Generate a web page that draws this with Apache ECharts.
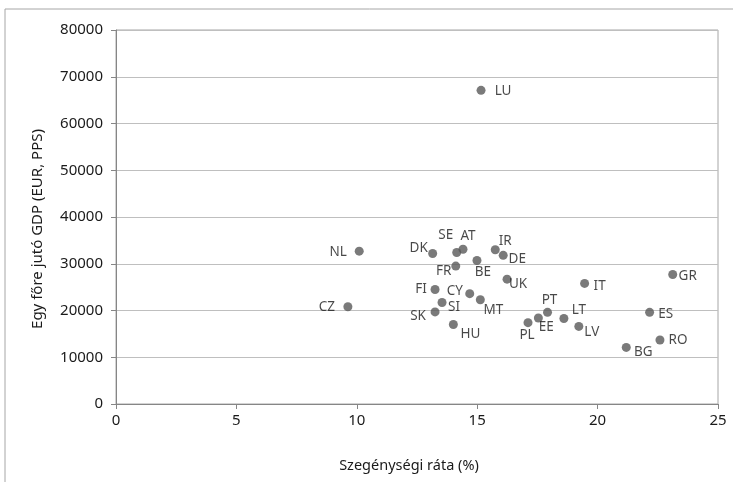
<!DOCTYPE html>
<html>
<head>
<meta charset="utf-8">
<script src="https://cdn.jsdelivr.net/npm/echarts@6/dist/echarts.min.js"></script>
<style>html,body{margin:0;padding:0;background:#fff}#c{width:733px;height:482px}</style>
</head>
<body>
<div id="c"></div>
<script>
const countries = ['LU','NL','CZ','DK','SE','AT','IR','DE','FR','BE','UK','FI','CY','MT','SI','SK','HU','PL','EE','PT','LT','LV','IT','GR','ES','RO','BG'];
const povertyRate = [15.16,10.1,9.63,13.15,14.15,14.41,15.75,16.08,14.11,14.99,16.24,13.25,14.69,15.13,13.54,13.25,14.01,17.11,17.54,17.92,18.6,19.22,19.46,23.12,22.16,22.59,21.19];
const gdpPerCapita = [67100,32700,20800,32200,32400,33100,33000,31800,29500,30700,26700,24500,23600,22300,21700,19700,17000,17400,18400,19600,18300,16600,25800,27700,19600,13700,12100];
const xTicks = [0,5,10,15,20,25];
const yTicks = [0,10000,20000,30000,40000,50000,60000,70000,80000];
// label placement (offset of label centre from the dot), styling only
const labelOffsets = {
  LU:[22,1], NL:[-21,1], CZ:[-21,0], DK:[-14,-5], SE:[-11,-17], AT:[5,-13], IR:[10,-9],
  DE:[14,4], FR:[-12,5], BE:[6,12], UK:[11,5], FI:[-14,0], CY:[-15,-3], MT:[13,10],
  SI:[12,5], SK:[-17,4], HU:[17,10], PL:[-1,13], EE:[8,9], PT:[2,-12], LT:[15,-8],
  LV:[13,6], IT:[15,3], GR:[15,2], ES:[16,2], RO:[18,0], BG:[17,5]
};
const font = 'Noto Sans';
const data = countries.map((c,i)=>({
  value:[povertyRate[i], gdpPerCapita[i]],
  name:c,
  label:{offset:labelOffsets[c]}
}));
const chart = echarts.init(document.getElementById('c'));
chart.setOption({
  animation:false,
  graphic:[{type:'rect',shape:{x:5,y:9,width:900,height:700},style:{fill:'none',stroke:'#a6a6a6',lineWidth:1},silent:true}],
  grid:{left:116,right:15,top:30,bottom:78,show:true,borderColor:'#a6a6a6',borderWidth:1},
  xAxis:{
    type:'value',min:0,max:25,interval:5,
    name:'Szegénységi ráta (%)',nameLocation:'middle',nameGap:54,
    nameTextStyle:{fontFamily:font,fontSize:14.5,color:'#1a1a1a',padding:[0,16,0,0]},
    axisLine:{show:true,lineStyle:{color:'#868686'}},
    axisTick:{show:true,length:5,lineStyle:{color:'#868686'}},
    axisLabel:{fontFamily:font,fontSize:15,color:'#1a1a1a',margin:9,
      formatter:v=>xTicks.includes(v)?String(v):''},
    splitLine:{show:false}
  },
  yAxis:{
    type:'value',min:0,max:80000,interval:10000,
    name:'Egy főre jutó GDP (EUR, PPS)',nameLocation:'middle',nameGap:71,
    nameTextStyle:{fontFamily:font,fontSize:15,color:'#1a1a1a',padding:[0,24,0,0]},
    axisLine:{show:true,lineStyle:{color:'#868686'}},
    axisTick:{show:true,length:5,lineStyle:{color:'#868686'}},
    axisLabel:{fontFamily:font,fontSize:15,color:'#1a1a1a',margin:13,
      formatter:v=>yTicks.includes(v)?String(v):''},
    splitLine:{show:true,lineStyle:{color:'#bfbfbf',width:1}}
  },
  series:[{
    type:'scatter',
    symbol:'circle',symbolSize:9,
    itemStyle:{color:'#595959'},
    label:{show:true,position:'inside',align:'center',verticalAlign:'middle',
      formatter:p=>p.name,fontFamily:font,fontSize:13.5,color:'#1a1a1a'},
    emphasis:{disabled:true},
    data:data
  }]
});
</script>
</body>
</html>
